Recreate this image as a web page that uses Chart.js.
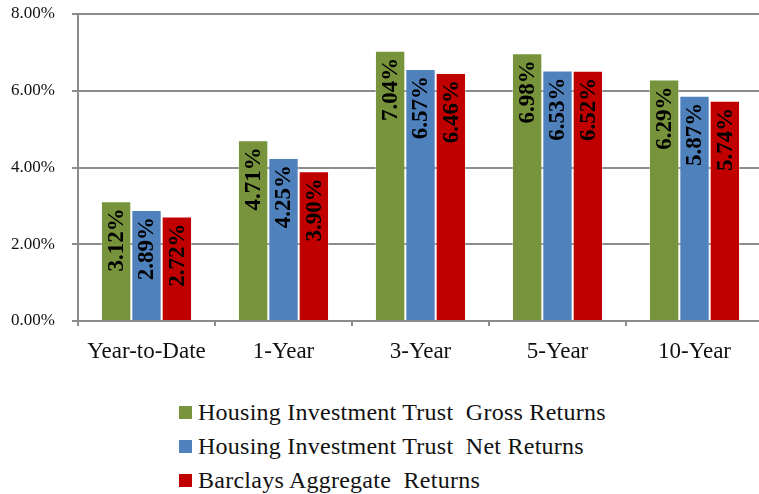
<!DOCTYPE html>
<html>
<head>
<meta charset="utf-8">
<script src="https://cdn.jsdelivr.net/npm/chart.js@4"></script>
<style>
  body { margin: 0; background: #fff; overflow: hidden; width: 759px; height: 494px; position: relative; }
  #wrap { position: absolute; left: 0; top: 0; width: 766px; height: 380px; }
  #legend { position: absolute; left: 179px; top: 395px; font-family: "Liberation Serif", "Times New Roman", serif; font-size: 24px; color: #111; letter-spacing: 0.25px; }
  #legend div { height: 34px; line-height: 34px; white-space: pre; }
  #legend span { display: inline-block; width: 13px; height: 13px; margin-right: 6px; vertical-align: 1px; }
</style>
</head>
<body>
<div id="wrap"><canvas id="myChart"></canvas></div>
<div id="legend"></div>
<script>
// categories and values (percent)
const categories = ['Year-to-Date', '1-Year', '3-Year', '5-Year', '10-Year'];
const grossReturns = [3.12, 4.71, 7.04, 6.98, 6.29];
const netReturns = [2.89, 4.25, 6.57, 6.53, 5.87];
const barclaysReturns = [2.72, 3.90, 6.46, 6.52, 5.74];
const seriesNames = ['Housing Investment Trust  Gross Returns', 'Housing Investment Trust  Net Returns', 'Barclays Aggregate  Returns'];
const seriesColors = ['#77933C', '#4F81BD', '#C00000'];
const yTicks = [0, 2, 4, 6, 8];

const serif = '"Liberation Serif", "Times New Roman", serif';

// Draw the rotated value labels inside each bar
const barLabels = {
  id: 'barLabels',
  afterDatasetsDraw(chart) {
    const ctx = chart.ctx;
    chart.data.datasets.forEach((ds, i) => {
      chart.getDatasetMeta(i).data.forEach((bar, j) => {
        ctx.save();
        ctx.translate(bar.x, bar.y + 7);
        ctx.rotate(-Math.PI / 2);
        ctx.font = 'bold 23px ' + serif;
        ctx.fillStyle = '#000';
        ctx.textAlign = 'right';
        ctx.textBaseline = 'middle';
        ctx.fillText(ds.data[j].toFixed(2) + '%', 0, 1);
        ctx.restore();
      });
    });
  }
};

const datasets = [grossReturns, netReturns, barclaysReturns].map((vals, i) => ({
  label: seriesNames[i],
  data: vals,
  backgroundColor: seriesColors[i],
  borderColor: 'rgba(255,255,255,0.35)',
  borderWidth: 1,
  categoryPercentage: 0.665,
  barPercentage: 1
}));

new Chart(document.getElementById('myChart').getContext('2d'), {
  type: 'bar',
  data: { labels: categories, datasets: datasets },
  plugins: [barLabels],
  options: {
    responsive: true,
    maintainAspectRatio: false,
    animation: false,
    layout: { padding: { top: 14, right: 3, left: 0, bottom: 0 } },
    plugins: {
      legend: { display: false },
      tooltip: { enabled: false }
    },
    scales: {
      x: {
        afterFit: (scale) => { scale.height = 59; },
        grid: { drawOnChartArea: false, drawTicks: true, tickLength: 5, color: '#8c8c8c', lineWidth: 2 },
        border: { color: '#8c8c8c', width: 2 },
        ticks: { color: '#111', padding: 12, font: { family: serif, size: 23 } }
      },
      y: {
        min: 0,
        max: 8,
        afterFit: (scale) => {
          scale.width = 78;
          scale.paddingTop = 0;
          scale.paddingBottom = 0;
        },
        afterBuildTicks: (scale) => { scale.ticks = yTicks.map(v => ({ value: v })); },
        grid: { color: '#8c8c8c', lineWidth: 2, tickLength: 6 },
        border: { color: '#8c8c8c', width: 2 },
        ticks: {
          color: '#111',
          padding: 17,
          font: { family: serif, size: 17 },
          callback: (v) => v.toFixed(2) + '%'
        }
      }
    }
  }
});

// legend as real text
document.getElementById('legend').innerHTML = seriesNames.map((name, i) =>
  '<div><span style="background:' + seriesColors[i] + '"></span>' + name + '</div>'
).join('');
</script>
</body>
</html>
